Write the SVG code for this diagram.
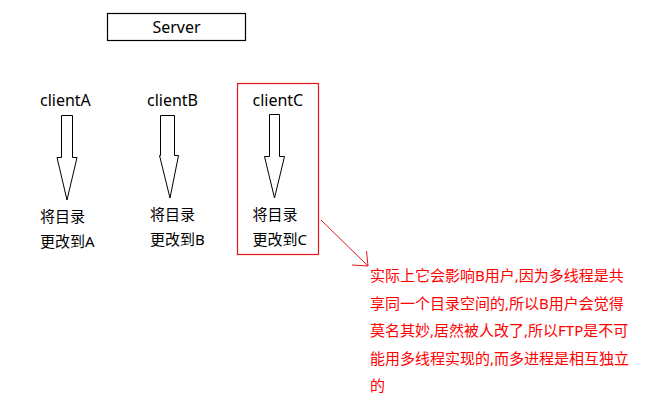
<svg xmlns="http://www.w3.org/2000/svg" width="668" height="413" viewBox="0 0 668 413">
<defs>
<style>
.t{font-family:"Noto Sans","Noto Sans CJK SC",sans-serif;font-size:15px;fill:#000}
.l{font-size:16px}
.r{font-family:"Noto Sans","Noto Sans CJK SC",sans-serif;font-size:15px;fill:#ff0000}
.arr{fill:#fff;stroke:#000;stroke-width:1}
.box{fill:#fff;stroke:#000;stroke-width:1.2}
.rbox{fill:none;stroke:#e8141c;stroke-width:1.2}
.rl{fill:none;stroke:#e8141c;stroke-width:1}
</style>
</defs>
<rect width="668" height="413" fill="#fff"/>
<g id="server">
<rect class="box" x="107.5" y="13.5" width="138" height="27"/>
<text class="t l" x="176.5" y="33" text-anchor="middle">Server</text>
</g>
<g id="clientA">
<text class="t l" x="40" y="106">clientA</text>
<polygon class="arr" points="61.5,115.5 72.5,115.5 72.5,157.5 77,157.5 67,200 57,157.5 61.5,157.5"/>
<text class="t" x="40" y="222">将目录</text>
<text class="t" x="40" y="247">更改到A</text>
</g>
<g id="clientB">
<text class="t l" x="147" y="106">clientB</text>
<polygon class="arr" points="160.5,115.5 174.5,115.5 174.5,155.5 178.5,155.5 170,198 159.5,155.5 160.5,155.5"/>
<text class="t" x="150" y="220">将目录</text>
<text class="t" x="150" y="245">更改到B</text>
</g>
<g id="clientC">
<rect class="rbox" x="237.5" y="83.5" width="81" height="171"/>
<text class="t l" x="252.5" y="106">clientC</text>
<polygon class="arr" points="269.5,114.5 279.5,114.5 279.5,156.5 284.5,156.5 274.5,198 264.5,156.5 269.5,156.5"/>
<text class="t" x="252.5" y="220">将目录</text>
<text class="t" x="252.5" y="245">更改到C</text>
</g>
<g id="connectors">
<line class="rl" x1="321" y1="220" x2="368" y2="266"/>
<polyline class="rl" points="366.5,251 368,266 352,265"/>
</g>
<g id="note">
<text class="r" x="370" y="281">实际上它会影响B用户,因为多线程是共</text>
<text class="r" x="370" y="309">享同一个目录空间的,所以B用户会觉得</text>
<text class="r" x="370" y="336">莫名其妙,居然被人改了,所以FTP是不可</text>
<text class="r" x="370" y="364">能用多线程实现的,而多进程是相互独立</text>
<text class="r" x="370" y="391">的</text>
</g>
</svg>
